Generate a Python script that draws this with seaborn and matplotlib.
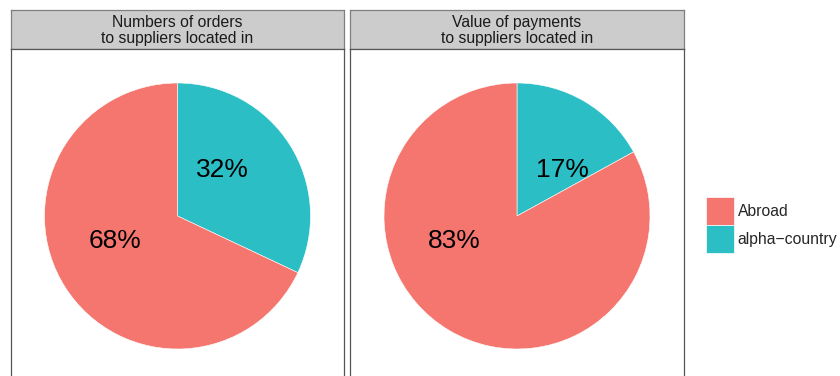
import numpy as np
import pandas as pd
import matplotlib
matplotlib.use("Agg")
import matplotlib.pyplot as plt
from matplotlib.patches import Patch
import seaborn as sns

# Data
panels = ["Numbers of orders\nto suppliers located in",
          "Value of payments\nto suppliers located in"]
locations = ["alpha-country", "Abroad"]
orders_share = [32, 68]
payments_share = [17, 83]

df = pd.DataFrame({
    "panel": np.repeat(panels, 2),
    "location": locations * 2,
    "share": orders_share + payments_share,
})

sns.set_theme(style="white")
plt.rcParams["font.family"] = ["Liberation Sans", "DejaVu Sans"]

colors = {"Abroad": "#F4766F", "alpha-country": "#2BBEC5"}

W, H = 840, 376
fig = plt.figure(figsize=(W / 100, H / 100), dpi=100)

panel_x = [(11, 333), (350, 334)]
strip_top, strip_bot = 10, 49
panel_bottom_px = 383
radius_px = 133
# label placement: angle clockwise from 12 o'clock, at half radius
label_angle = {"alpha-country": 43, "Abroad": 250}

for (x0, w), name in zip(panel_x, panels):
    sub = df[df["panel"] == name]
    # strip
    sax = fig.add_axes([x0 / W, 1 - strip_bot / H, w / W, (strip_bot - strip_top) / H])
    sax.set_facecolor("#CCCCCC")
    sax.set_xticks([]); sax.set_yticks([])
    for s in sax.spines.values():
        s.set_color("#7F7F7F"); s.set_linewidth(0.9)
    sax.text(0.5, 0.47, name, ha="center", va="center", fontsize=11.3,
             color="#1A1A1A", linespacing=1.05, transform=sax.transAxes)

    # panel
    ph = panel_bottom_px - strip_bot
    ax = fig.add_axes([x0 / W, 1 - panel_bottom_px / H, w / W, ph / H])
    vals = sub["share"].to_numpy()
    locs = sub["location"].tolist()
    ax.pie(vals, colors=[colors[l] for l in locs], startangle=90,
           counterclock=False, radius=1,
           wedgeprops=dict(edgecolor="white", linewidth=0.4))
    half_w = w / 2 / radius_px
    half_h = ph / 2 / radius_px
    ax.set_xlim(-half_w, half_w)
    ax.set_ylim(-half_h, half_h)
    ax.set_aspect("auto")
    ax.set_frame_on(True)
    ax.set_facecolor("white")
    ax.set_xticks([]); ax.set_yticks([])
    for s in ax.spines.values():
        s.set_visible(True)
        s.set_color("#555555"); s.set_linewidth(0.9)
    for loc, v in zip(locs, vals):
        th = np.deg2rad(label_angle[loc])
        ax.text(0.5 * np.sin(th), 0.5 * np.cos(th) - 0.02, f"{v}%", ha="center",
                va="center", fontsize=19, color="black")

handles = [Patch(facecolor=colors[l], edgecolor="white", linewidth=0.5)
           for l in ["Abroad", "alpha-country"]]
fig.legend(handles, ["Abroad", "alpha\u2212country"], loc="center left",
           bbox_to_anchor=(706 / W, 1 - 225 / H), frameon=False,
           fontsize=11.3, handlelength=1.78, handleheight=2.36,
           handletextpad=0.25, labelspacing=0.0, borderpad=0,
           borderaxespad=0)

fig.savefig("out.png", dpi=100, facecolor="white")
